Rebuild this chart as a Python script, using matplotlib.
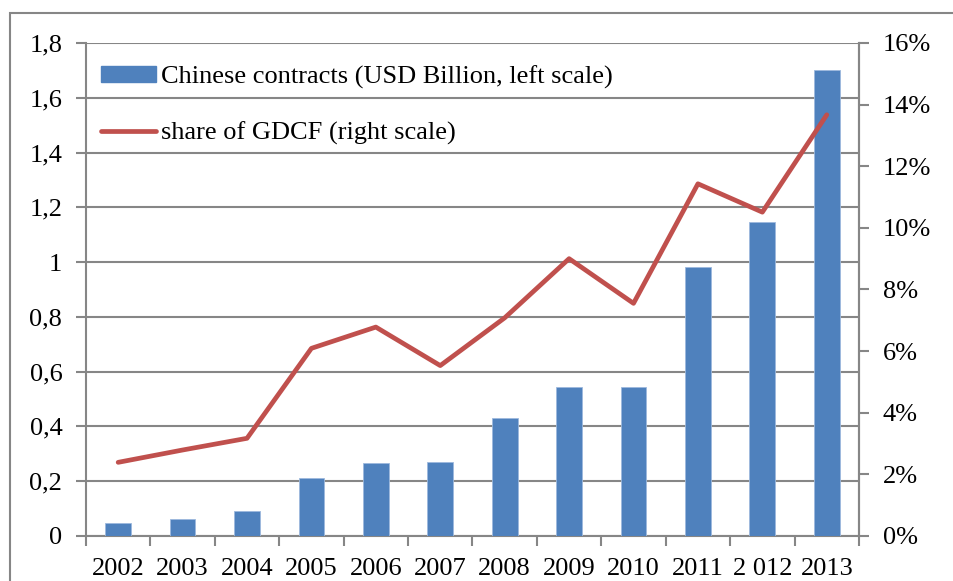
import numpy as np
import matplotlib
matplotlib.use('Agg')
from matplotlib import pyplot as plt
from matplotlib.patches import Rectangle, Patch
from matplotlib.lines import Line2D
from matplotlib.ticker import FuncFormatter, FixedLocator

years = ['2002', '2003', '2004', '2005', '2006', '2007', '2008', '2009', '2010', '2011', '2 012', '2013']
contracts = [0.046, 0.063, 0.091, 0.213, 0.265, 0.271, 0.430, 0.545, 0.545, 0.983, 1.147, 1.701]
share_gdcf = [0.0239, 0.0279, 0.0317, 0.0609, 0.0678, 0.0553, 0.0708, 0.0900, 0.0755, 0.1143, 0.1051, 0.1367]

bar_color = '#4F81BD'
line_color = '#C0504D'
grid_color = '#868686'

plt.rcParams['font.family'] = ['Liberation Serif', 'DejaVu Serif']
plt.rcParams['font.size'] = 19

fig = plt.figure(figsize=(9.54, 5.81), dpi=100)
ax = fig.add_axes([0.0901, 0.0775, 0.8103, 0.8485])
ax2 = ax.twinx()

x = np.arange(len(years))
ax.bar(x, contracts, width=0.4, color=bar_color, edgecolor='#9DB9DD', linewidth=0.6, zorder=3)
ax2.plot(x, share_gdcf, color=line_color, linewidth=3.4, solid_capstyle='round', zorder=4)

ax.set_xlim(-0.5, len(years) - 0.5)
ax.set_ylim(0, 1.8)
ax2.set_ylim(0, 0.16)

ax.set_yticks(np.arange(0, 1.81, 0.2))
ax.yaxis.set_major_formatter(FuncFormatter(lambda v, p: f'{round(v, 1):g}'.replace('.', ',')))
ax2.set_yticks(np.arange(0, 0.161, 0.02))
ax2.yaxis.set_major_formatter(FuncFormatter(lambda v, p: f'{v * 100:.0f}%'))

ax.set_xticks(x)
ax.set_xticklabels(years)
ax.xaxis.set_minor_locator(FixedLocator(np.arange(-0.5, len(years), 1.0)))
ax.tick_params(axis='x', which='major', length=0, pad=16)
ax.tick_params(axis='x', which='minor', length=7, width=1.5, color=grid_color)
ax.tick_params(axis='y', length=7, width=1.5, color=grid_color, pad=10)
ax2.tick_params(axis='y', length=7, width=1.5, color=grid_color, pad=10)

ax.grid(axis='y', color=grid_color, linewidth=1.5, zorder=0)
ax.set_axisbelow(True)
for a in (ax, ax2):
    a.spines['top'].set_visible(False)
    for s in ('left', 'right', 'bottom'):
        a.spines[s].set_color(grid_color)
        a.spines[s].set_linewidth(1.5)
ax2.spines['left'].set_visible(False)
ax2.spines['bottom'].set_visible(False)

handles = [
    Patch(facecolor=bar_color, edgecolor=bar_color),
    Line2D([0], [0], color=line_color, linewidth=3.4, solid_capstyle='round'),
]
labels = ['Chinese contracts (USD Billion, left scale)', 'share of GDCF (right scale)']
leg = ax2.legend(handles, labels, loc='upper left', bbox_to_anchor=(0.019, 0.955),
                 frameon=False, borderaxespad=0, borderpad=0, handlelength=2.1,
                 handleheight=0.55, handletextpad=0.2, labelspacing=1.25, fontsize=19)

fig.patches.append(Rectangle((10 / 954, -0.1), 1.2, 1 - 13 / 581 + 0.1, transform=fig.transFigure,
                             fill=False, edgecolor=grid_color, linewidth=1.5))

fig.savefig('out.png', dpi=100)
